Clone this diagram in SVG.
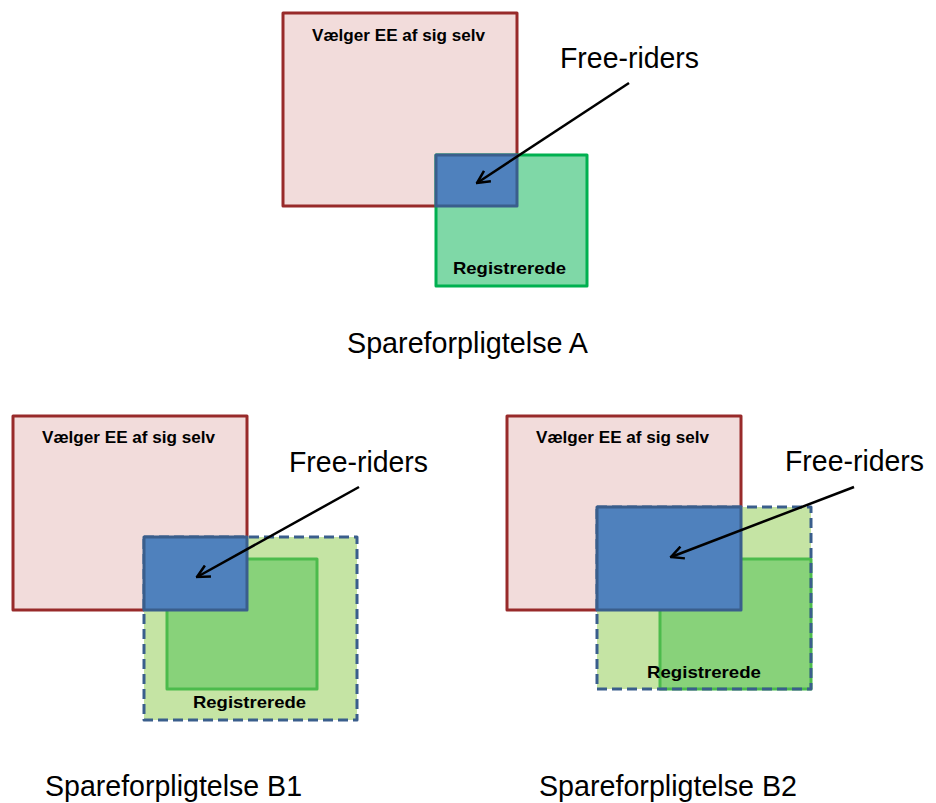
<svg xmlns="http://www.w3.org/2000/svg" width="936" height="803" viewBox="0 0 936 803">
  <style>
    rect { stroke-linejoin: round; }
    .self { fill: #F2DCDB; stroke: #982A2A; stroke-width: 3; }
    .regA { fill: #7FD8A7; stroke: #00B050; stroke-width: 3; }
    .free { fill: #4F81BD; stroke: #3A5E8C; stroke-width: 3; }
    .pool { fill: #C5E4A4; stroke: none; }
    .dash { fill: none; stroke: #3A5E8C; stroke-width: 3; stroke-dasharray: 10 5; }
    .reg  { fill: #88D27A; stroke: #4CBB4C; stroke-width: 3; }
    .lbl  { font-family: "Liberation Sans", Arial, sans-serif; font-weight: bold; font-size: 16.5px; fill: #000; }
    .big  { font-family: "Liberation Sans", Arial, sans-serif; font-size: 29px; fill: #000; }
    .arrow { stroke: #000; stroke-width: 2.5; fill: none; }
  </style>
  <defs>
    <marker id="open" viewBox="0 0 12 12" refX="11" refY="6" markerWidth="6" markerHeight="6" markerUnits="strokeWidth" orient="auto">
      <path d="M1,1 L11,6 L1,11" fill="none" stroke="#000" stroke-width="2"/>
    </marker>
  </defs>

  <!-- Spareforpligtelse A -->
  <g id="a-self">
    <rect class="self" x="283" y="13" width="234" height="193"/>
    <text class="lbl" x="312" y="41" textLength="173" lengthAdjust="spacingAndGlyphs">Vælger EE af sig selv</text>
  </g>
  <g id="a-registered">
    <rect class="regA" x="436" y="155" width="151" height="131"/>
    <text class="lbl" x="453" y="274" textLength="113" lengthAdjust="spacingAndGlyphs">Registrerede</text>
  </g>
  <g id="a-free">
    <rect class="free" x="436" y="155" width="81" height="51"/>
  </g>
  <g id="a-label">
    <text class="big" x="560" y="68" textLength="139" lengthAdjust="spacingAndGlyphs">Free-riders</text>
    <text class="big" x="347" y="353" textLength="241" lengthAdjust="spacingAndGlyphs">Spareforpligtelse A</text>
  </g>

  <!-- Spareforpligtelse B1 -->
  <g id="b1-self">
    <rect class="self" x="13" y="416" width="234" height="194"/>
    <text class="lbl" x="42" y="443" textLength="173" lengthAdjust="spacingAndGlyphs">Vælger EE af sig selv</text>
  </g>
  <g id="b1-pool">
    <rect class="pool" x="144" y="537" width="213" height="183"/>
    <rect class="dash" x="144" y="537" width="213" height="183"/>
  </g>
  <g id="b1-registered">
    <rect class="reg" x="167" y="559" width="150" height="130"/>
    <text class="lbl" x="193" y="708" textLength="113" lengthAdjust="spacingAndGlyphs">Registrerede</text>
  </g>
  <g id="b1-free">
    <rect class="free" x="144" y="537" width="103" height="73"/>
  </g>
  <g id="b1-label">
    <text class="big" x="289" y="472" textLength="139" lengthAdjust="spacingAndGlyphs">Free-riders</text>
    <text class="big" x="45" y="796" textLength="257" lengthAdjust="spacingAndGlyphs">Spareforpligtelse B1</text>
  </g>

  <!-- Spareforpligtelse B2 -->
  <g id="b2-self">
    <rect class="self" x="507" y="416" width="234" height="194"/>
    <text class="lbl" x="536" y="443" textLength="173" lengthAdjust="spacingAndGlyphs">Vælger EE af sig selv</text>
  </g>
  <g id="b2-pool">
    <rect class="pool" x="597" y="507" width="214" height="182"/>
  </g>
  <g id="b2-registered">
    <rect class="reg" x="660" y="559" width="151" height="130"/>
    <rect class="dash" x="597" y="507" width="214" height="182"/>
    <text class="lbl" x="647" y="678" textLength="114" lengthAdjust="spacingAndGlyphs">Registrerede</text>
  </g>
  <g id="b2-free">
    <rect class="free" x="597" y="507" width="144" height="103"/>
  </g>
  <g id="b2-label">
    <text class="big" x="785" y="471" textLength="139" lengthAdjust="spacingAndGlyphs">Free-riders</text>
    <text class="big" x="539" y="796" textLength="258" lengthAdjust="spacingAndGlyphs">Spareforpligtelse B2</text>
  </g>

  <!-- pointers from the Free-riders labels -->
  <g id="connectors">
    <line class="arrow" x1="629" y1="83" x2="477" y2="183" marker-end="url(#open)"/>
    <line class="arrow" x1="359" y1="487" x2="197" y2="577" marker-end="url(#open)"/>
    <line class="arrow" x1="854" y1="487" x2="671" y2="557" marker-end="url(#open)"/>
  </g>
</svg>
